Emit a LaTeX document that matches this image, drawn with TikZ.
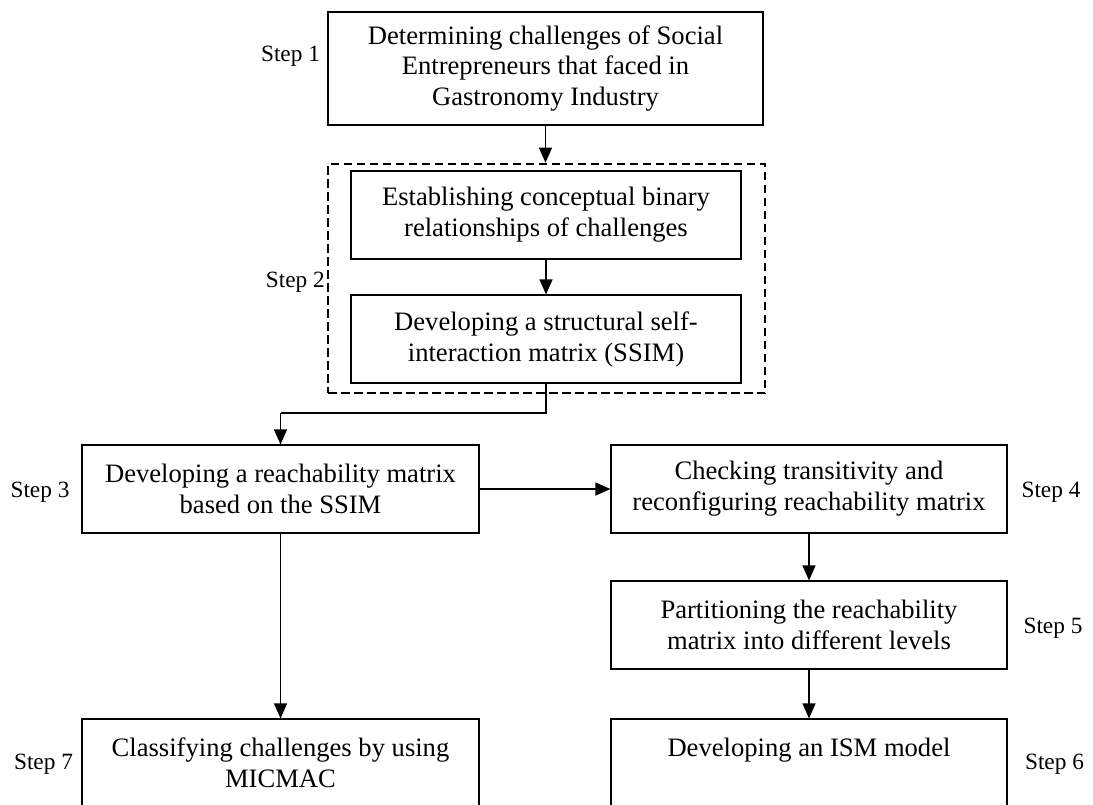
\documentclass[tikz,border=0pt]{standalone}
\usepackage{fontspec}
\setmainfont{Liberation Serif}
\usetikzlibrary{arrows.meta,calc}

\tikzset{
  stepbox/.style={draw=black, line width=1.2pt, rectangle, inner sep=0pt,
    align=center, font=\fontsize{26.6}{31}\selectfont,
    minimum height=88pt},
  steplabel/.style={inner sep=0pt, font=\fontsize{23.3}{27}\selectfont},
  group/.style={draw=black, line width=2.6pt, dash pattern=on 8.5pt off 4.5pt,
    rectangle, inner sep=0pt},
  arr/.style={draw=black, line width=1.2pt, -{Triangle[length=15pt,width=13pt]}},
  link/.style={draw=black, line width=1.2pt}
}

\begin{document}
\begin{tikzpicture}[x=1pt,y=-1pt]
  \useasboundingbox (0,0) rectangle (1093,804);
  \clip (0,0) rectangle (1093,804);
  \fill[white] (0,0) rectangle (1093,804);

  % step 1
  \node[stepbox, minimum width=435pt, minimum height=113pt] (s1) at (545.5,68.5)
    {Determining challenges of Social\\Entrepreneurs that faced in\\Gastronomy Industry};

  % step 2: two sub-steps in a dashed frame
  \node[group, minimum width=437pt, minimum height=229pt] (grp) at (546.5,278.5) {};
  \node[stepbox, minimum width=390pt] (s2a) at (546,215)
    {Establishing conceptual binary\\relationships of challenges};
  \node[stepbox, minimum width=390pt] (s2b) at (546,339)
    {Developing a structural self-\\interaction matrix (SSIM)};

  % steps 3 to 7
  \node[stepbox, minimum width=397pt] (s3) at (280.5,489)
    {Developing a reachability matrix\\based on the SSIM};
  \node[stepbox, minimum width=396pt] (s4) at (809,489)
    {Checking transitivity and\\reconfiguring reachability matrix};
  \node[stepbox, minimum width=396pt] (s5) at (809,625)
    {Partitioning the reachability\\matrix into different levels};
  \node[stepbox, minimum width=396pt] (s6) at (809,763)
    {Developing an ISM model\\\mbox{}};
  \node[stepbox, minimum width=397pt] (s7) at (280.5,763)
    {Classifying challenges by using\\MICMAC};

  % step labels
  \node[steplabel] (l1) at (290.5,56) {Step 1};
  \node[steplabel, anchor=east] (l2) at (325,282) {Step 2};
  \node[steplabel] (l3) at (40,492) {Step 3};
  \node[steplabel] (l4) at (1051,492) {Step 4};
  \node[steplabel] (l5) at (1053,628) {Step 5};
  \node[steplabel] (l6) at (1054.5,764) {Step 6};
  \node[steplabel] (l7) at (43.5,764) {Step 7};

  % connectors
  \coordinate (bend) at (280.5,413);
  \draw[arr] (s1.south) -- (s1.south |- grp.north);
  \draw[arr] (s2a.south) -- (s2b.north);
  \draw[link] (s2b.south) |- (bend);
  \draw[arr] (bend) -- (s3.north);
  \draw[arr] (s3.east) -- (s4.west);
  \draw[arr] (s4.south) -- (s5.north);
  \draw[arr] (s5.south) -- (s6.north);
  \draw[arr] (s3.south) -- (s7.north);
\end{tikzpicture}
\end{document}
